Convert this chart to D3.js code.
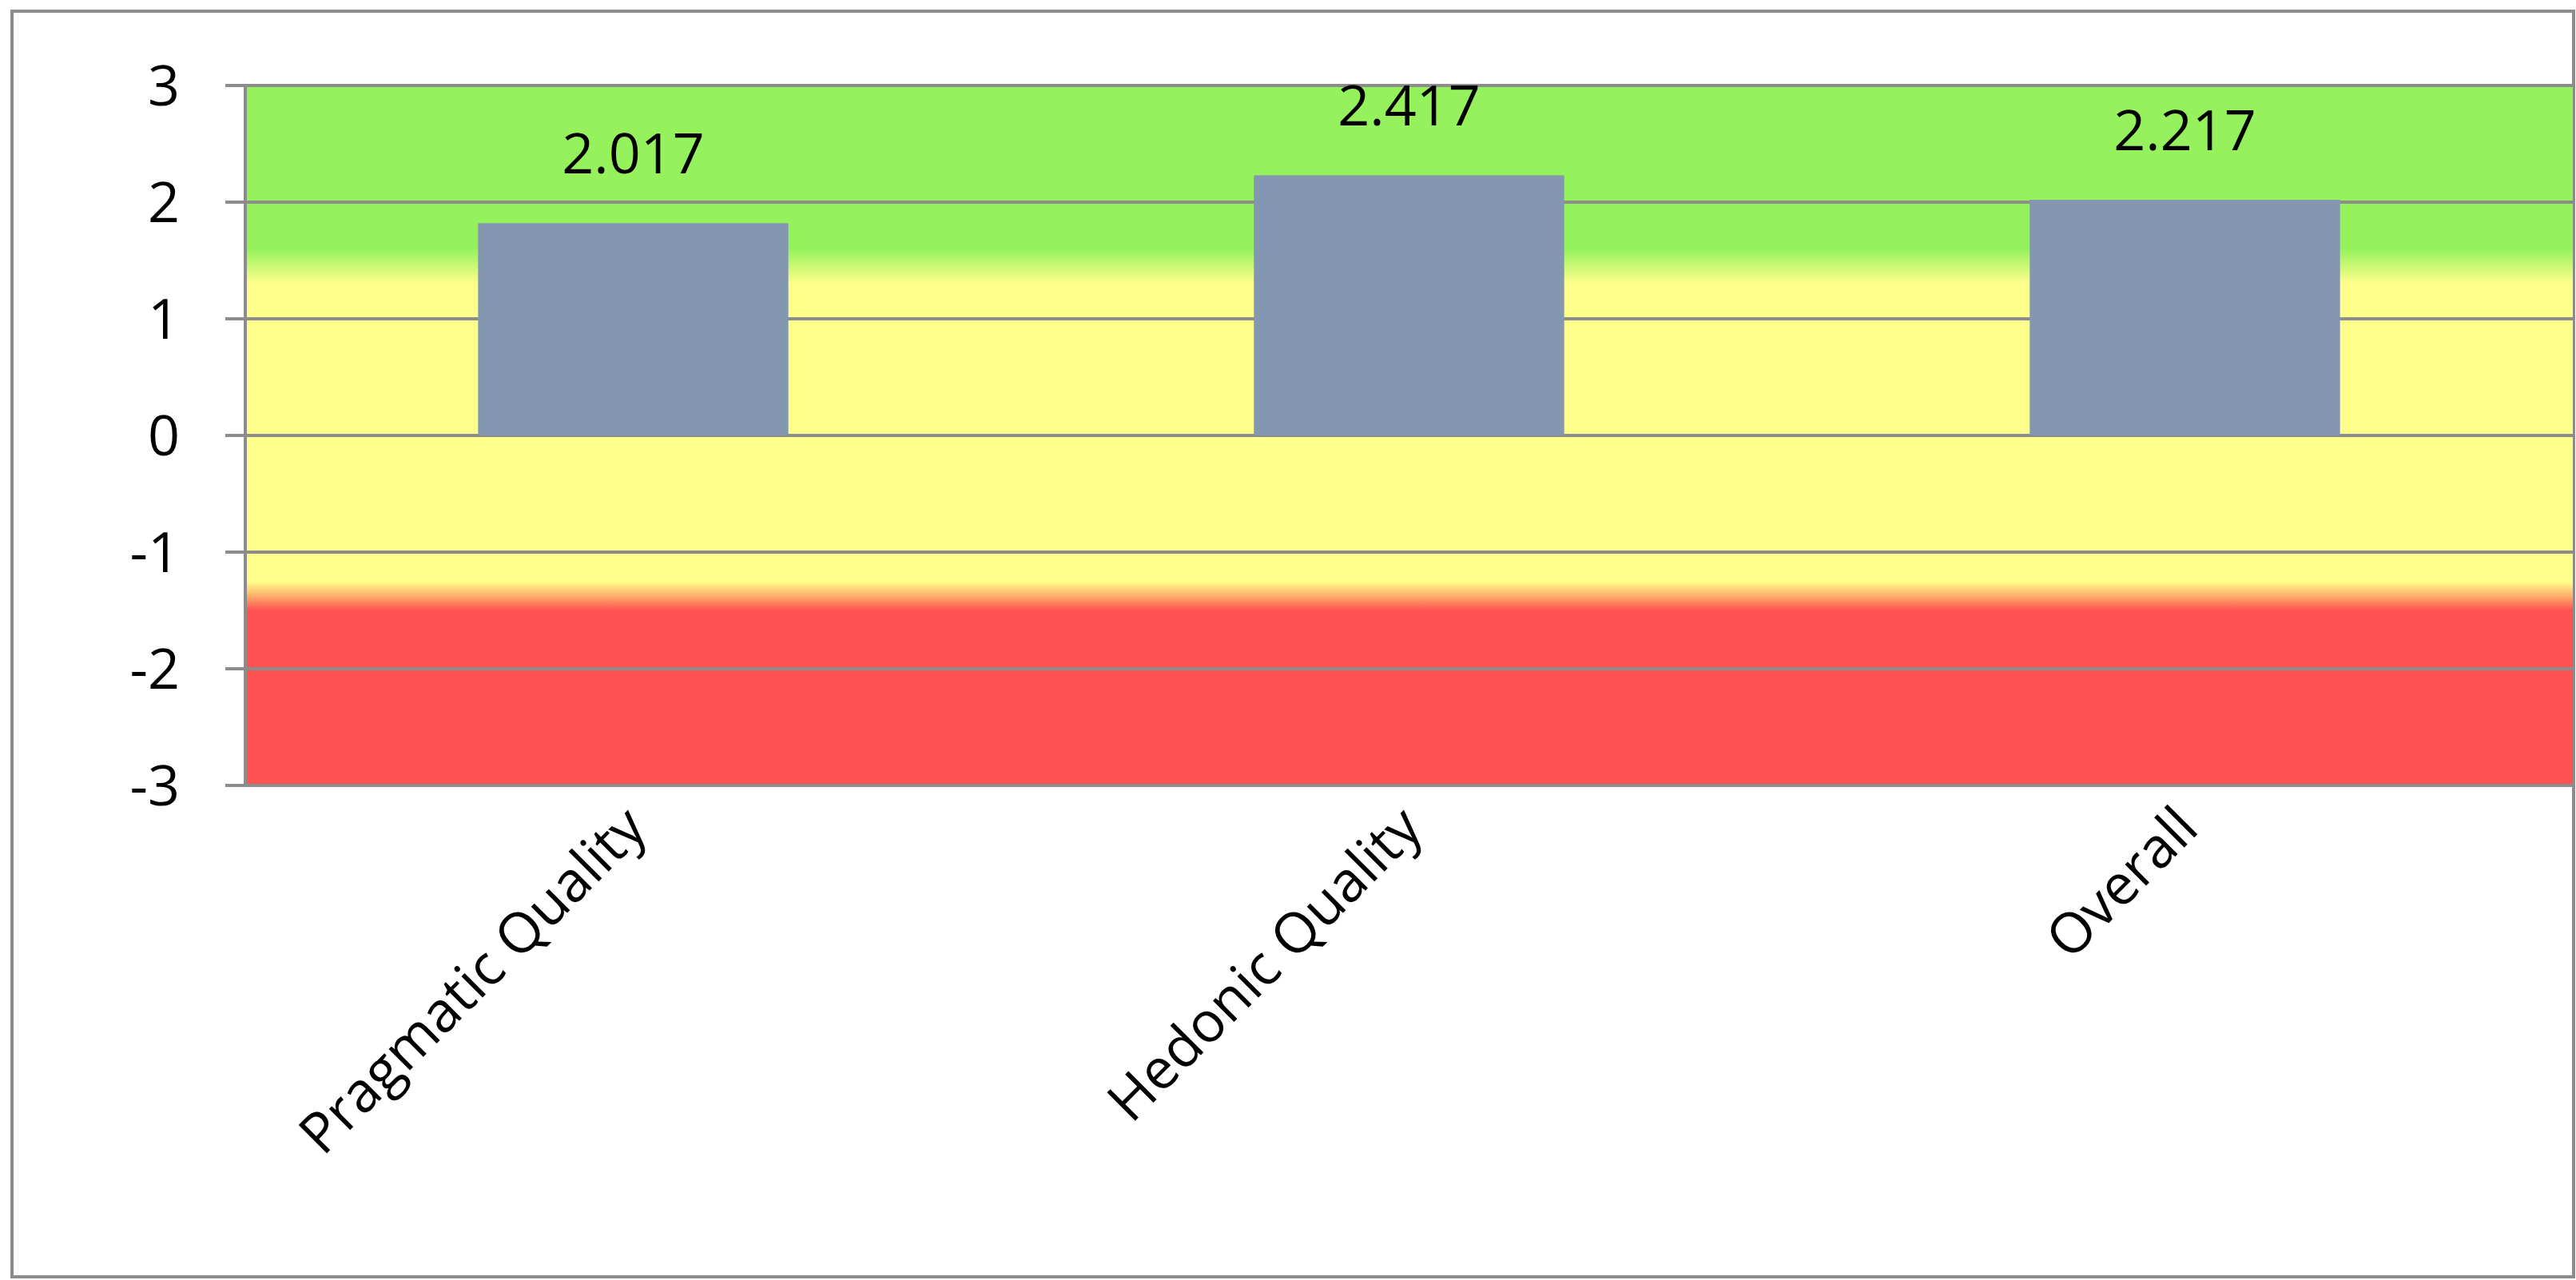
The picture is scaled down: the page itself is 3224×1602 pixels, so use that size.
<!DOCTYPE html>
<html><head><meta charset="utf-8">
<script src="https://cdn.jsdelivr.net/npm/d3@7"></script>
<style>body{margin:0;background:#fff}svg{display:block}</style></head>
<body><script>
const categories = ["Pragmatic Quality","Hedonic Quality","Overall"];
const barValues = [1.82, 2.23, 2.02];
const valueLabels = ["2.017","2.417","2.217"];
const yTicks = [3,2,1,0,-1,-2,-3];

const W=3224,H=1602;
const svg=d3.select("body").append("svg").attr("width",W).attr("height",H);
svg.append("rect").attr("x",15).attr("y",14).attr("width",3206).attr("height",1584)
  .attr("fill","#fff").attr("stroke","#8c8c8c").attr("stroke-width",4);
const L=307,R=3220,T=107,B=983;
const y=d3.scaleLinear().domain([-3,3]).range([B,T]);
const x=d3.scaleBand().domain(categories).range([L,R]).paddingInner(0.6).paddingOuter(0.3);

const defs=svg.append("defs");
const g=defs.append("linearGradient").attr("id","bg").attr("x1",0).attr("x2",0).attr("y1",0).attr("y2",1);
const stops=[[3,"#95F25D"],[1.6,"#95F25D"],[1.3,"#FFFF8C"],[-1.25,"#FFFF8C"],[-1.35,"#FFC070"],[-1.5,"#FF5252"],[-3,"#FF5252"]];
stops.forEach(([v,c])=>g.append("stop").attr("offset",(3-v)/6).attr("stop-color",c));
svg.append("rect").attr("x",L).attr("y",T).attr("width",R-L).attr("height",B-T).attr("fill","url(#bg)");

svg.append("g").selectAll("line").data(yTicks).join("line")
  .attr("x1",L-25).attr("x2",R).attr("y1",d=>y(d)).attr("y2",d=>y(d))
  .attr("stroke","#8c8c8c").attr("stroke-width",4);
svg.append("line").attr("x1",L).attr("x2",L).attr("y1",T).attr("y2",B).attr("stroke","#8c8c8c").attr("stroke-width",4);

svg.append("g").selectAll("text").data(yTicks).join("text")
  .attr("x",L-82).attr("y",d=>y(d)).attr("dy","0.36em").attr("text-anchor","end")
  .attr("font-family","Open Sans, sans-serif").attr("font-size",70).text(d=>d);

svg.append("g").selectAll("rect").data(categories).join("rect")
  .attr("x",d=>x(d)).attr("width",x.bandwidth())
  .attr("y",(d,i)=>y(barValues[i])).attr("height",(d,i)=>y(0)-y(barValues[i]))
  .attr("fill","#8497B0");

svg.append("g").selectAll("text").data(categories).join("text")
  .attr("x",d=>x(d)+x.bandwidth()/2).attr("y",(d,i)=>y(barValues[i])-62)
  .attr("text-anchor","middle").attr("font-family","Open Sans, sans-serif").attr("font-size",70)
  .text((d,i)=>valueLabels[i]);

svg.append("g").selectAll("text").data(categories).join("text")
  .attr("transform",d=>`translate(${x(d)+x.bandwidth()/2+20},1040) rotate(-45)`)
  .attr("text-anchor","end").attr("font-family","Open Sans, sans-serif").attr("font-size",70)
  .text(d=>d);
</script></body></html>
